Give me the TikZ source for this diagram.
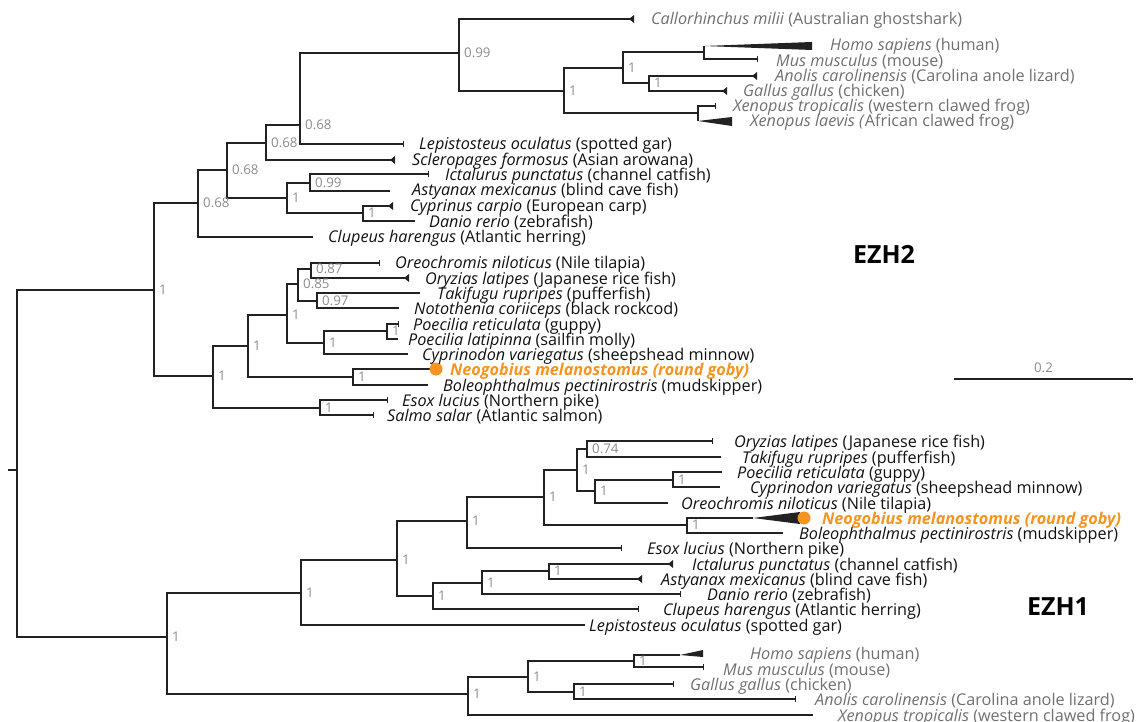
\documentclass[tikz,border=0pt]{standalone}
\usepackage{fontspec}
\setmainfont{Open Sans}
\definecolor{brn}{HTML}{222222}
\definecolor{suppt}{HTML}{8C8C8C}
\definecolor{tetra}{HTML}{707070}
\definecolor{fish}{HTML}{111111}
\definecolor{goby}{HTML}{F7931E}
\newcommand{\tx}[2]{\textit{#1} (#2)}

\begin{document}
\begin{tikzpicture}[x=1pt,y=-1pt,
    br/.style={draw=brn,line width=1.2pt},
    tax/.style={anchor=base west,inner sep=0pt,yshift=-6pt,text=fish,
                font=\fontsize{16.2}{16.2}\selectfont},
    grey/.style={text=tetra},
    gobytx/.style={text=goby,font=\fontsize{16.2}{16.2}\selectfont\bfseries\itshape},
    sup/.style={anchor=base west,inner sep=0pt,xshift=5pt,yshift=-4.5pt,
                text=suppt,font=\fontsize{13.3}{13.3}\selectfont},
    gene/.style={inner sep=0pt,font=\fontsize{25}{25}\selectfont\bfseries}]
\useasboundingbox (0,0) rectangle (1143,722);

% internal nodes, EZH2
\coordinate (root) at (17,470);
\coordinate (stub) at (8,470);
\coordinate (e2)  at (154,290);
\coordinate (e2a) at (198,203);
\coordinate (e2c) at (227,170);
\coordinate (e2d) at (266,143);
\coordinate (e2g) at (300,125);
\coordinate (e2h) at (459,53);
\coordinate (e2i) at (564,91);
\coordinate (e2j) at (623,68);
\coordinate (e2k) at (704,52);
\coordinate (e2l) at (649,83);
\coordinate (e2x) at (698,113);
\coordinate (e2f) at (287,198);
\coordinate (e2m) at (310,183);
\coordinate (e2n) at (363,213);
\coordinate (e2b) at (213,376);
\coordinate (e2o) at (248,346);
\coordinate (e2q) at (287,315);
\coordinate (e2t) at (298,284);
\coordinate (e2v) at (311,269);
\coordinate (e2w) at (317,301);
\coordinate (e2u) at (324,343);
\coordinate (e2r) at (387,331);
\coordinate (e2s) at (353,377);
\coordinate (e2p) at (320,408);
% internal nodes, EZH1
\coordinate (e1)  at (167,637);
\coordinate (e1a) at (301,593);
\coordinate (e1c) at (397,560);
\coordinate (e1d) at (467,521);
\coordinate (e1f) at (544,497);
\coordinate (e1g) at (577,470);
\coordinate (e1i) at (587,449);
\coordinate (e1j) at (595,491);
\coordinate (e1k) at (673,480);
\coordinate (e1h) at (687,525);
\coordinate (e1e) at (433,596);
\coordinate (e1l) at (482,583);
\coordinate (e1m) at (549,571);
\coordinate (e1b) at (468,694);
\coordinate (e1n) at (528,677);
\coordinate (e1o) at (634,661);
\coordinate (e1p) at (574,692);

% tips, EZH2
\coordinate (callo2) at (634,19);
\coordinate (homo2)  at (704,46);
\coordinate (mus2)   at (757,59);
\coordinate (anol2)  at (757,76);
\coordinate (gall2)  at (727,91);
\coordinate (xtro2)  at (715,106);
\coordinate (xlae2)  at (698,121);
\coordinate (lepi2)  at (403,144);
\coordinate (scle2)  at (395,160);
\coordinate (icta2)  at (428,174);
\coordinate (asty2)  at (390,191);
\coordinate (cypr2)  at (393,206);
\coordinate (dani2)  at (415,221);
\coordinate (clup2)  at (313,237);
\coordinate (oreo2)  at (379,263);
\coordinate (oryz2)  at (409,278);
\coordinate (taki2)  at (420,293);
\coordinate (noto2)  at (399,308);
\coordinate (pret2)  at (398,324);
\coordinate (plat2)  at (398,339);
\coordinate (cypd2)  at (408,354);
\coordinate (neo2)   at (436,369);
\coordinate (bole2)  at (428,385);
\coordinate (esox2)  at (387,400);
\coordinate (salm2)  at (373,415);
% tips, EZH1
\coordinate (oryz1)  at (712,441);
\coordinate (taki1)  at (721,457);
\coordinate (pret1)  at (722,472);
\coordinate (cypd1)  at (720,487);
\coordinate (oreo1)  at (668,503);
\coordinate (neo1)   at (753,518);
\coordinate (neo1d)  at (804,518);
\coordinate (bole1)  at (783,533);
\coordinate (esox1)  at (621,548);
\coordinate (icta1)  at (673,564);
\coordinate (asty1)  at (642,579);
\coordinate (dani1)  at (680,594);
\coordinate (clup1)  at (638,609);
\coordinate (lepi1)  at (585,625);
\coordinate (homo1)  at (680,655);
\coordinate (mus1)   at (703,667);
\coordinate (gall1)  at (673,684);
\coordinate (anol1)  at (795,699);
\coordinate (xtro1)  at (813,715);

% branches
\draw[br] (root) -- (stub);
\foreach \p/\c in {root/e2,root/e1,
    e2/e2a,e2/e2b,e2a/e2c,e2a/clup2,e2c/e2d,e2c/e2f,e2d/e2g,e2d/scle2,
    e2g/e2h,e2g/lepi2,e2h/callo2,e2h/e2i,e2i/e2j,e2i/e2x,e2j/e2k,e2j/e2l,
    e2k/homo2,e2k/mus2,e2l/anol2,e2l/gall2,e2x/xtro2,e2x/xlae2,
    e2f/e2m,e2f/e2n,e2m/icta2,e2m/asty2,e2n/cypr2,e2n/dani2,
    e2b/e2o,e2b/e2p,e2o/e2q,e2o/e2s,e2q/e2t,e2q/e2u,e2t/e2v,e2t/e2w,
    e2v/oreo2,e2v/oryz2,e2w/taki2,e2w/noto2,e2u/e2r,e2u/cypd2,
    e2r/pret2,e2r/plat2,e2s/neo2,e2s/bole2,e2p/esox2,e2p/salm2,
    e1/e1a,e1/e1b,e1a/e1c,e1a/lepi1,e1c/e1d,e1c/e1e,e1d/e1f,e1d/esox1,
    e1f/e1g,e1f/e1h,e1g/e1i,e1g/e1j,e1i/oryz1,e1i/taki1,e1j/e1k,e1j/oreo1,
    e1k/pret1,e1k/cypd1,e1h/neo1,e1h/bole1,e1e/e1l,e1e/clup1,
    e1l/e1m,e1l/dani1,e1m/icta1,e1m/asty1,
    e1b/e1n,e1b/xtro1,e1n/e1o,e1n/e1p,e1o/homo1,e1o/mus1,e1p/gall1,e1p/anol1}
  \draw[br] (\p) |- (\c);

% tip ends
\foreach \t in {mus2,xtro2,lepi2,icta2,oreo2,pret2,esox2,salm2,
                oryz1,esox1,dani1,clup1,mus1,gall1,anol1}
  \draw[br,line width=0.9pt] ([yshift=3pt]\t) -- ([yshift=-3pt]\t);
\foreach \t in {callo2,anol2,gall2,scle2,cypr2,oryz2,icta1,asty1}
  \fill[brn] (\t) ++(-5,0) -- ++(5,-4) -- ++(0,8) -- cycle;
\fill[brn] (homo2) -- ++(108,-4) -- ++(0,8) -- cycle;
\fill[brn] (xlae2) -- ++(34,-4) -- ++(0,9) -- cycle;
\fill[brn] (homo1) -- ++(23,-5) -- ++(0,7) -- cycle;
\fill[brn] (neo1) -- ++(47,-6) -- ++(0,12) -- cycle;
\fill[goby] (neo2) circle (6.5);
\fill[goby] (neo1d) circle (6.5);

% support values
\foreach \p/\v in {e2/1,e2a/0.68,e2c/0.68,e2d/0.68,e2g/0.68,e2h/0.99,e2i/1,
    e2j/1,e2l/1,e2f/1,e2m/0.99,e2n/1,e2b/1,e2o/1,e2q/1,e2t/0.85,e2v/0.87,
    e2w/0.97,e2u/1,e2r/1,e2s/1,e2p/1,
    e1/1,e1a/1,e1c/1,e1d/1,e1f/1,e1g/1,e1i/0.74,e1j/1,e1k/1,e1h/1,e1e/1,
    e1l/1,e1m/1,e1b/1,e1n/1,e1o/1,e1p/1}
  \node[sup] (\p-s) at (\p) {\v};

% taxon labels, EZH2
\node[tax,grey] (callo2-l) at (651,19)  {\tx{Callorhinchus milii}{Australian ghostshark}};
\node[tax,grey] (homo2-l)  at (830,45)  {\tx{Homo sapiens}{human}};
\node[tax,grey] (mus2-l)   at (776,61)  {\tx{Mus musculus}{mouse}};
\node[tax,grey] (anol2-l)  at (775,76)  {\tx{Anolis carolinensis}{Carolina anole lizard}};
\node[tax,grey] (gall2-l)  at (743,91)  {\tx{Gallus gallus}{chicken}};
\node[tax,grey] (xtro2-l)  at (733,106) {\tx{Xenopus tropicalis}{western clawed frog}};
\node[tax,grey] (xlae2-l)  at (750,121) {\textit{Xenopus laevis (}African clawed frog)};
\node[tax] (lepi2-l) at (419,144) {\tx{Lepistosteus oculatus}{spotted gar}};
\node[tax] (scle2-l) at (412,160) {\tx{Scleropages formosus}{Asian arowana}};
\node[tax] (icta2-l) at (445,175) {\tx{Ictalurus punctatus}{channel catfish}};
\node[tax] (asty2-l) at (412,190) {\tx{Astyanax mexicanus}{blind cave fish}};
\node[tax] (cypr2-l) at (410,206) {\tx{Cyprinus carpio}{European carp}};
\node[tax] (dani2-l) at (429,221) {\tx{Danio rerio}{zebrafish}};
\node[tax] (clup2-l) at (328,237) {\tx{Clupeus harengus}{Atlantic herring}};
\node[tax] (oreo2-l) at (395,263) {\tx{Oreochromis niloticus}{Nile tilapia}};
\node[tax] (oryz2-l) at (425,278) {\tx{Oryzias latipes}{Japanese rice fish}};
\node[tax] (taki2-l) at (437,293) {\tx{Takifugu rupripes}{pufferfish}};
\node[tax] (noto2-l) at (414,308) {\tx{Notothenia coriiceps}{black rockcod}};
\node[tax] (pret2-l) at (413,324) {\tx{Poecilia reticulata}{guppy}};
\node[tax] (plat2-l) at (408,339) {\tx{Poecilia latipinna}{sailfin molly}};
\node[tax] (cypd2-l) at (422,354) {\tx{Cyprinodon variegatus}{sheepshead minnow}};
\node[tax,gobytx] (neo2-l) at (450,369) {Neogobius melanostomus (round goby)};
\node[tax] (bole2-l) at (443,385) {\tx{Boleophthalmus pectinirostris}{mudskipper}};
\node[tax] (esox2-l) at (402,400) {\tx{Esox lucius}{Northern pike}};
\node[tax] (salm2-l) at (387,415) {\tx{Salmo salar}{Atlantic salmon}};

% taxon labels, EZH1
\node[tax] (oryz1-l) at (734,441) {\tx{Oryzias latipes}{Japanese rice fish}};
\node[tax] (taki1-l) at (742,457) {\tx{Takifugu rupripes}{pufferfish}};
\node[tax] (pret1-l) at (737,472) {\tx{Poecilia reticulata}{guppy}};
\node[tax] (cypd1-l) at (750,487) {\tx{Cyprinodon variegatus}{sheepshead minnow}};
\node[tax] (oreo1-l) at (681,503) {\tx{Oreochromis niloticus}{Nile tilapia}};
\node[tax,gobytx] (neo1-l) at (822,518) {Neogobius melanostomus (round goby)};
\node[tax] (bole1-l) at (799,533) {\tx{Boleophthalmus pectinirostris}{mudskipper}};
\node[tax] (esox1-l) at (647,548) {\tx{Esox lucius}{Northern pike}};
\node[tax] (icta1-l) at (692,564) {\tx{Ictalurus punctatus}{channel catfish}};
\node[tax] (asty1-l) at (661,579) {\tx{Astyanax mexicanus}{blind cave fish}};
\node[tax] (dani1-l) at (707,594) {\tx{Danio rerio}{zebrafish}};
\node[tax] (clup1-l) at (663,609) {\tx{Clupeus harengus}{Atlantic herring}};
\node[tax] (lepi1-l) at (589,625) {\tx{Lepistosteus oculatus}{spotted gar}};
\node[tax,grey] (homo1-l) at (750,653) {\tx{Homo sapiens}{human}};
\node[tax,grey] (mus1-l)  at (723,669) {\tx{Mus musculus}{mouse}};
\node[tax,grey] (gall1-l) at (690,684) {\tx{Gallus gallus}{chicken}};
\node[tax,grey] (anol1-l) at (815,699) {\tx{Anolis carolinensis}{Carolina anole lizard}};
\node[tax,grey] (xtro1-l) at (838,715) {\tx{Xenopus tropicalis}{western clawed frog}};

% gene names and scale
\node[gene] (ezh2) at (884,254) {EZH2};
\node[gene] (ezh1) at (1058,607) {EZH1};
\coordinate (sb1) at (954,379);
\coordinate (sb2) at (1133,379);
\draw[brn,line width=1.2pt] (sb1) -- (sb2)
  node[midway,above=6pt,inner sep=0pt,text=suppt,font=\fontsize{13.3}{13.3}\selectfont] (sb-l) {0.2};
\end{tikzpicture}
\end{document}
